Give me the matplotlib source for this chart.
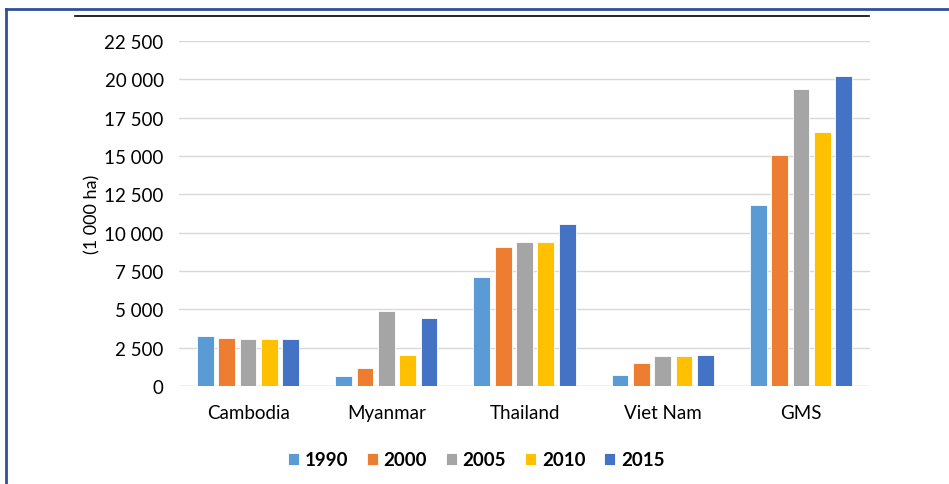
import matplotlib
matplotlib.use("Agg")
import matplotlib.pyplot as plt
from matplotlib.lines import Line2D
from matplotlib.ticker import FuncFormatter
import numpy as np

categories = ["Cambodia", "Myanmar", "Thailand", "Viet Nam", "GMS"]
years = ["1990", "2000", "2005", "2010", "2015"]
v1990 = [3240, 680, 7110, 720, 11830]
v2000 = [3130, 1180, 9090, 1520, 15090]
v2005 = [3090, 4890, 9370, 1940, 19370]
v2010 = [3050, 2050, 9390, 1980, 16560]
v2015 = [3050, 4430, 10590, 2000, 20200]
series = [v1990, v2000, v2005, v2010, v2015]
colors = ["#5B9BD5", "#ED7D31", "#A5A5A5", "#FFC000", "#4472C4"]
yticks = list(range(0, 22501, 2500))

plt.rcParams['font.family'] = ['Lato', 'DejaVu Sans']

fig = plt.figure(figsize=(9.49, 4.85), dpi=100)
W, H = 949, 485
ax = fig.add_axes([179 / W, 1 - 387 / H, (870 - 179) / W, (387 - 42) / H])

x = np.arange(len(categories))
slot = 0.1545
bw = 0.121
for i, (vals, c, yr) in enumerate(zip(series, colors, years)):
    ax.bar(x + (i - 2) * slot, vals, width=bw, color=c, edgecolor="white",
           linewidth=0.6, label=yr, zorder=3)

ax.set_xlim(-0.5, len(categories) - 0.5)
ax.set_ylim(0, 22500)
ax.set_yticks(yticks)
ax.yaxis.set_major_formatter(FuncFormatter(lambda v, p: f"{int(v):,}".replace(",", " ")))
ax.grid(axis="y", color="#D9D9D9", linewidth=1.0, zorder=0)
for s in ["top", "right", "left", "bottom"]:
    ax.spines[s].set_visible(False)
ax.axhline(0, color="#D9D9D9", linewidth=1.0, zorder=1)
ax.tick_params(axis="both", length=0, colors="#000000")
ax.tick_params(axis="y", pad=11, labelsize=13.5)
ax.tick_params(axis="x", pad=13, labelsize=13.5)
ax.set_xticks(x)
ax.set_xticklabels(categories)
ax.set_ylabel("(1 000 ha)", fontsize=13, labelpad=3)

leg = fig.legend(loc="center", bbox_to_anchor=(476 / W, 1 - 461 / H), ncol=5,
                 frameon=False, prop={"weight": "bold", "size": 13.5},
                 handlelength=0.6, handleheight=0.6, handletextpad=0.3,
                 columnspacing=1.0)

# black top line
fig.add_artist(Line2D([75 / W, 869 / W], [1 - 17 / H, 1 - 17 / H], color="black", linewidth=1.2))
# blue frame (cropped on right and bottom)
fig.add_artist(Line2D([6 / W, 1.0], [1 - 10 / H, 1 - 10 / H], color="#2F4F9A", linewidth=2))
fig.add_artist(Line2D([6 / W, 6 / W], [0, 1 - 10 / H], color="#2F4F9A", linewidth=2))

fig.savefig("out.png", dpi=100)
